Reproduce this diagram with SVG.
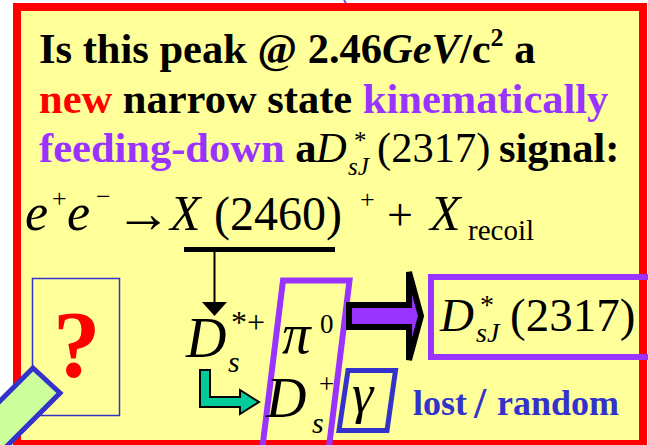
<svg xmlns="http://www.w3.org/2000/svg" width="648" height="445" viewBox="0 0 648 445">
<style>
.t{font-family:"Liberation Serif","Times New Roman",serif}
.b{font-weight:bold}
.i{font-style:italic}
.pur{fill:#9933FF}
.blu{fill:#3333CC}
.box{fill:none;stroke:#9933FF;stroke-width:6}
</style>
<defs>
<marker id="ah" viewBox="0 0 14 25" refX="0" refY="12.5" markerWidth="14" markerHeight="25" markerUnits="userSpaceOnUse" orient="auto">
<path d="M0,0 L14,12.5 L0,25 Z" fill="#000"/>
</marker>
</defs>
<line x1="344" y1="0" x2="347" y2="5" stroke="#7755EE" stroke-width="2"/>
<g id="frame">
<rect x="17" y="7" width="626" height="437" fill="#FFFF99" stroke="#FF0000" stroke-width="8"/>
</g>
<g id="title" class="t b" font-size="42.5">
<text x="39" y="63">Is this peak @ 2.46<tspan class="i">GeV</tspan>/c<tspan dy="-17" font-size="26">2</tspan><tspan dy="17"> a</tspan></text>
<text x="39" y="113"><tspan fill="#FF0000">new</tspan> narrow state <tspan class="pur">kinematically</tspan></text>
<text x="39" y="162"><tspan class="pur">feeding-down</tspan> a</text>
<text x="316" y="162" font-weight="normal" class="i">D</text>
<text x="354" y="149" font-weight="normal" font-size="25">*</text>
<text x="348" y="175" font-weight="normal" font-size="25" class="i">sJ</text>
<text x="377" y="162" font-weight="normal">(2317)</text>
<text x="499" y="162">signal:</text>
</g>
<g id="equation" class="t">
<text x="25" y="230" font-size="52" class="i">e</text>
<text x="52" y="207" font-size="26">+</text>
<text x="67" y="230" font-size="52" class="i">e</text>
<text x="96" y="205" font-size="26">−</text>
<text x="115" y="232" font-size="56">→</text>
<text x="170" y="230" font-size="50" class="i">X</text>
<text x="214" y="230" font-size="48">(2460)</text>
<text x="360" y="208" font-size="26">+</text>
<text x="387" y="230" font-size="46">+</text>
<text x="430" y="230" font-size="50" class="i">X</text>
<text x="468" y="240" font-size="29">recoil</text>
</g>
<g id="question">
<rect x="32.5" y="278.5" width="87" height="137" fill="none" stroke="#3333CC" stroke-width="1.5"/>
<text x="53" y="377" class="t b" font-size="95" fill="#FF0000">?</text>
</g>
<g id="pen">
<polygon points="33,368 60,393 -40,493 -67,468" fill="#CCFF99" stroke="#3333CC" stroke-width="5"/>
</g>
<g id="ds-star" class="t">
<text x="186" y="357" font-size="56" class="i">D</text>
<text x="231" y="333" font-size="32">*+</text>
<text x="228" y="372" font-size="30" class="i">s</text>
</g>
<g id="pi0-ds-box" class="t">
<polygon class="box" points="283,280.5 349.5,280.5 328,455 261.5,455"/>
<text x="282" y="353" font-size="57" class="i">π</text>
<text x="320" y="333" font-size="27">0</text>
<text x="266" y="417" font-size="56" class="i">D</text>
<text x="319" y="393" font-size="27">+</text>
<text x="312" y="433" font-size="30" class="i">s</text>
</g>
<g id="gamma-box" class="t">
<polygon points="348,370.5 395.5,370.5 387,430.5 339,430.5" fill="none" stroke="#3333CC" stroke-width="5"/>
<text x="352" y="412" font-size="54" class="i">γ</text>
</g>
<g id="dsj-box" class="t">
<rect class="box" x="431" y="277" width="230" height="80"/>
<text x="440" y="331" font-size="47" class="i">D</text>
<text x="480" y="314" font-size="28">*</text>
<text x="476" y="342" font-size="28" class="i">sJ</text>
<text x="510" y="331" font-size="47">(2317)</text>
</g>
<g id="lost-random" class="t b blu" font-size="36">
<text x="413" y="415">lost</text>
<text x="474" y="418" font-size="44">/</text>
<text x="497" y="415">random</text>
</g>
<g id="connectors">
<rect x="184" y="247" width="151" height="5" fill="#000"/>
<line x1="214.5" y1="250" x2="214.5" y2="302" stroke="#000" stroke-width="2" marker-end="url(#ah)"/>
<polygon points="200,370 210,370 210,397 240,397 240,390 259,402 240,414 240,407 200,407" fill="#00CC99" stroke="#000" stroke-width="2"/>
<polygon points="349,305 409,305 409,272 421,316 409,360 409,327 349,327" fill="#9933FF" stroke="#000" stroke-width="6"/>
</g>
</svg>
